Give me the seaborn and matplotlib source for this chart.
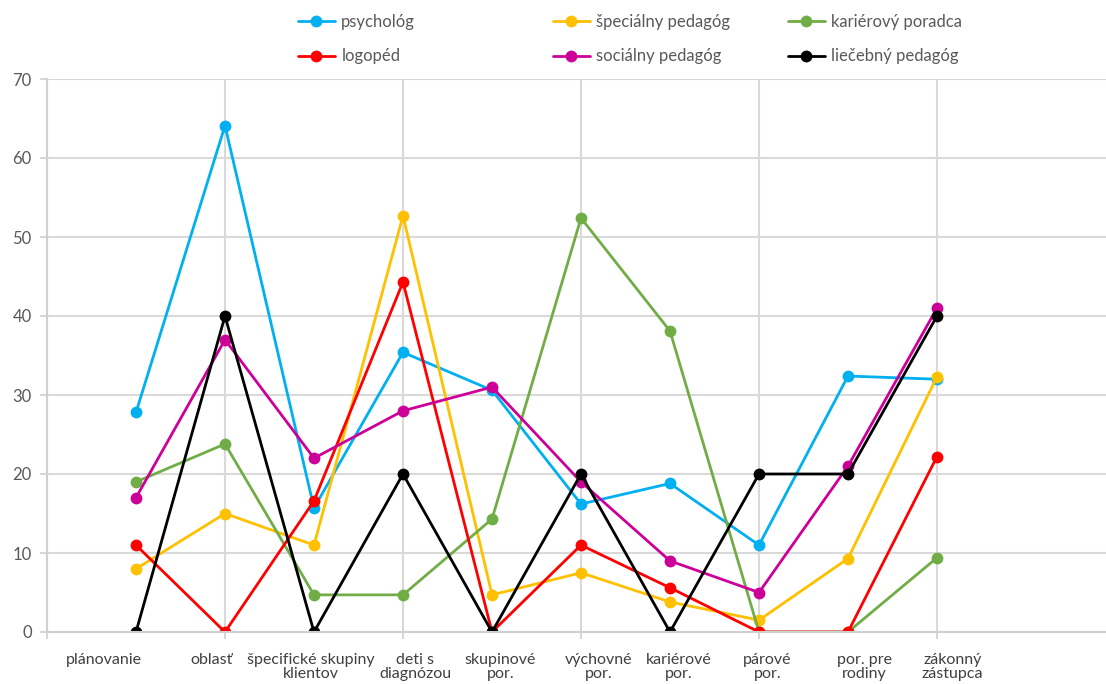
import matplotlib
matplotlib.use("Agg")
import matplotlib.pyplot as plt
import matplotlib.transforms as mtransforms
import seaborn as sns
import numpy as np

categories = ["plánovanie", "oblasť", "špecifické skupiny\nklientov", "deti s\ndiagnózou",
              "skupinové\npor.", "výchovné\npor.", "kariérové\npor.", "párové\npor.",
              "por. pre\nrodiny", "zákonný\nzástupca"]

psycholog = [27.8, 64.1, 15.7, 35.4, 30.6, 16.2, 18.8, 11.0, 32.4, 32.0]
specialny_pedagog = [8.0, 15.0, 11.0, 52.7, 4.7, 7.5, 3.8, 1.5, 9.3, 32.3]
karierovy_poradca = [19.0, 23.8, 4.7, 4.7, 14.3, 52.4, 38.1, 0.0, 0.0, 9.4]
logoped = [11.0, 0.0, 16.6, 44.3, 0.0, 11.0, 5.6, 0.0, 0.0, 22.2]
socialny_pedagog = [17.0, 37.0, 22.0, 28.0, 31.0, 19.0, 9.0, 5.0, 21.0, 41.0]
liecebny_pedagog = [0.0, 40.0, 0.0, 20.0, 0.0, 20.0, 0.0, 20.0, 20.0, 40.0]

series_names = ["psychológ", "špeciálny pedagóg", "kariérový poradca",
                "logopéd", "sociálny pedagóg", "liečebný pedagóg"]
series_values = [psycholog, specialny_pedagog, karierovy_poradca,
                 logoped, socialny_pedagog, liecebny_pedagog]
colors = ["#00B0F0", "#FFC000", "#70AD47", "#FF0000", "#CC0099", "#000000"]

# horizontal nudges of the category labels (points), styling only
label_nudge = [-23, -10, -2, 9, 6, 13, 6, 6, 12, 11]

sns.set_theme(style="white")
plt.rcParams["font.family"] = ["Lato", "DejaVu Sans"]

fig = plt.figure(figsize=(11.06, 6.84), dpi=100)
ax = fig.add_axes([47/1106, 52/684, (1115-47)/1106, (632-79)/684])

xs = np.arange(1, len(categories) + 1)
handles = []
for name, vals, c in zip(series_names, series_values, colors):
    sns.lineplot(x=xs, y=vals, ax=ax, color=c, marker="o", markersize=8.5,
                 markeredgewidth=0, linewidth=2.0, label=name, legend=False)
    handles.append(ax.lines[-1])

ax.set_xlim(0, 12)
ax.set_ylim(0, 70)
ax.xaxis.remove_overlapping_locs = False
ax.set_yticks(np.arange(0, 71, 10))
ax.set_xticks(np.arange(0, 13, 2))
ax.set_xticklabels([])
ax.set_xticks(xs, minor=True)
ax.set_xticklabels(categories, minor=True, fontsize=11.5, color="#404040", linespacing=1.05,
                   va="top")
ax.tick_params(axis="x", which="minor", length=0, pad=15)
ax.tick_params(axis="x", which="major", length=5, width=1.2, color="#D0D0D0", direction="out", bottom=True)
ax.tick_params(axis="y", which="major", length=5, width=1.2, color="#D0D0D0", direction="out",
               left=True, labelsize=12, labelcolor="#595959", pad=6)
for lbl, dx in zip(ax.get_xticklabels(minor=True), label_nudge):
    lbl.set_transform(lbl.get_transform() + mtransforms.ScaledTranslation(dx/72, 0, fig.dpi_scale_trans))

ax.grid(True, axis="both", which="major", color="#D9D9D9", linewidth=1.5)
ax.set_axisbelow(True)
for s in ["top", "right"]:
    ax.spines[s].set_visible(False)
ax.spines["left"].set_color("#D0D0D0")
ax.spines["left"].set_linewidth(1.5)
ax.spines["bottom"].set_color("#D0D0D0")
ax.spines["bottom"].set_linewidth(1.5)
ax.set_xlabel("")
ax.set_ylabel("")

col_x = [298, 553, 788]
for i, x0 in enumerate(col_x):
    hs = [handles[i], handles[i + 3]]
    ls = [series_names[i], series_names[i + 3]]
    leg = fig.legend(hs, ls, loc="upper left", bbox_to_anchor=(x0/1106, 1 - 14/684),
                     frameon=False, fontsize=12, labelcolor="#595959", handlelength=2.2,
                     handletextpad=0.4, labelspacing=1.1, borderpad=0, borderaxespad=0)

fig.savefig("out.png", dpi=100)
